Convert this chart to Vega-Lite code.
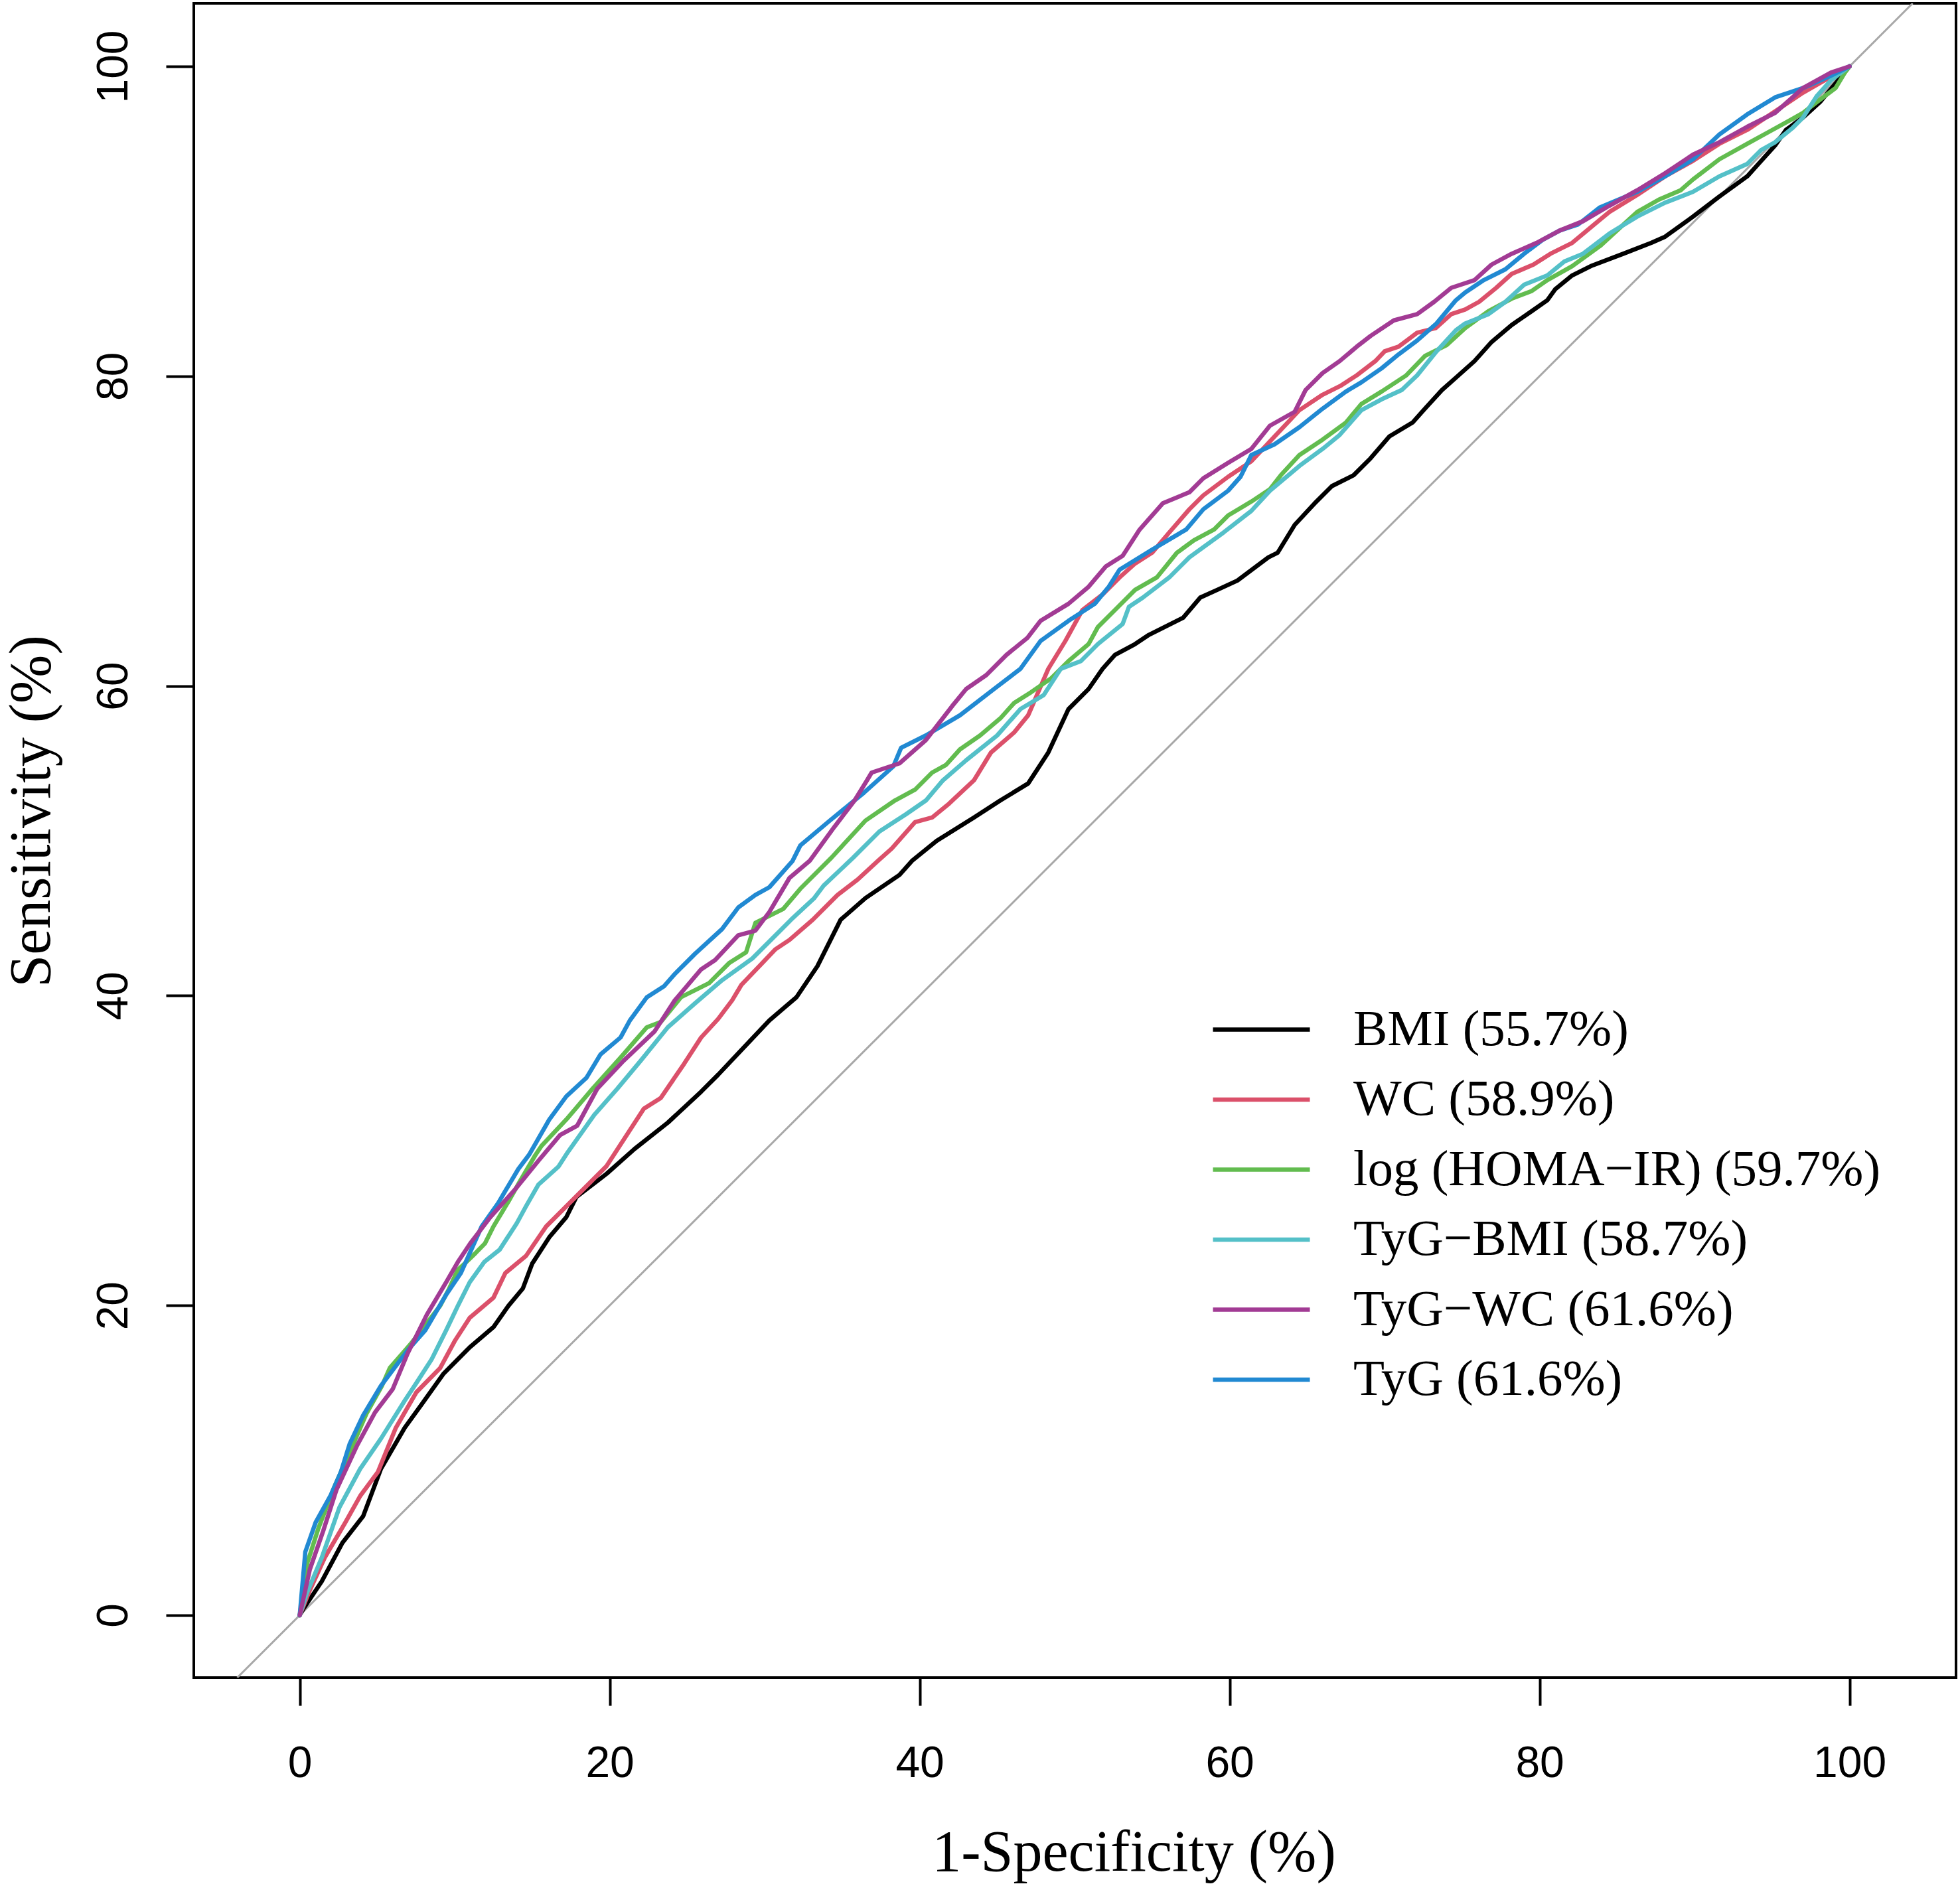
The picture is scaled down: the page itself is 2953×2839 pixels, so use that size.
{
  "$schema": "https://vega.github.io/schema/vega-lite/v6.json",
  "width": 2655,
  "height": 2523,
  "autosize": {"type": "none"},
  "padding": {"left": 292, "top": 5, "right": 6, "bottom": 311},
  "background": "white",
  "config": {
    "view": {"stroke": "black", "strokeWidth": 4},
    "axis": {
      "domain": false,
      "grid": false,
      "tickColor": "black",
      "tickWidth": 4,
      "tickSize": 42,
      "labelFont": "Liberation Sans",
      "labelFontSize": 66,
      "labelColor": "black",
      "labelFlush": false,
      "labelOverlap": false,
      "titleFont": "Liberation Serif",
      "titleFontSize": 88,
      "titleFontWeight": "normal",
      "titleColor": "black"
    }
  },
  "datasets": {
    "diag": [
      {"fpr": -4.03, "tpr": -4.03},
      {"fpr": 104.07, "tpr": 104.07}
    ],
    "roc": [
      {"model": "BMI (55.7%)", "fpr": 0, "tpr": 0},
      {"model": "BMI (55.7%)", "fpr": 0.27, "tpr": 0.46},
      {"model": "BMI (55.7%)", "fpr": 1.42, "tpr": 2.18},
      {"model": "BMI (55.7%)", "fpr": 2.75, "tpr": 4.67},
      {"model": "BMI (55.7%)", "fpr": 4.09, "tpr": 6.39},
      {"model": "BMI (55.7%)", "fpr": 5.24, "tpr": 9.45},
      {"model": "BMI (55.7%)", "fpr": 6.77, "tpr": 12.1},
      {"model": "BMI (55.7%)", "fpr": 7.9, "tpr": 13.66},
      {"model": "BMI (55.7%)", "fpr": 9.26, "tpr": 15.57},
      {"model": "BMI (55.7%)", "fpr": 10.97, "tpr": 17.3},
      {"model": "BMI (55.7%)", "fpr": 12.5, "tpr": 18.6},
      {"model": "BMI (55.7%)", "fpr": 13.46, "tpr": 19.97},
      {"model": "BMI (55.7%)", "fpr": 14.4, "tpr": 21.1},
      {"model": "BMI (55.7%)", "fpr": 15.0, "tpr": 22.7},
      {"model": "BMI (55.7%)", "fpr": 16.1, "tpr": 24.4},
      {"model": "BMI (55.7%)", "fpr": 17.2, "tpr": 25.7},
      {"model": "BMI (55.7%)", "fpr": 17.85, "tpr": 27.0},
      {"model": "BMI (55.7%)", "fpr": 19.8, "tpr": 28.5},
      {"model": "BMI (55.7%)", "fpr": 21.6, "tpr": 30.1},
      {"model": "BMI (55.7%)", "fpr": 23.75, "tpr": 31.8},
      {"model": "BMI (55.7%)", "fpr": 25.9, "tpr": 33.8},
      {"model": "BMI (55.7%)", "fpr": 27.0, "tpr": 34.9},
      {"model": "BMI (55.7%)", "fpr": 28.6, "tpr": 36.6},
      {"model": "BMI (55.7%)", "fpr": 30.3, "tpr": 38.4},
      {"model": "BMI (55.7%)", "fpr": 32.05, "tpr": 39.9},
      {"model": "BMI (55.7%)", "fpr": 33.4, "tpr": 41.9},
      {"model": "BMI (55.7%)", "fpr": 34.9, "tpr": 44.9},
      {"model": "BMI (55.7%)", "fpr": 36.5, "tpr": 46.3},
      {"model": "BMI (55.7%)", "fpr": 38.7, "tpr": 47.8},
      {"model": "BMI (55.7%)", "fpr": 39.5, "tpr": 48.7},
      {"model": "BMI (55.7%)", "fpr": 41.1, "tpr": 50.0},
      {"model": "BMI (55.7%)", "fpr": 43.5, "tpr": 51.5},
      {"model": "BMI (55.7%)", "fpr": 45.2, "tpr": 52.6},
      {"model": "BMI (55.7%)", "fpr": 47.0, "tpr": 53.7},
      {"model": "BMI (55.7%)", "fpr": 48.3, "tpr": 55.7},
      {"model": "BMI (55.7%)", "fpr": 49.6, "tpr": 58.5},
      {"model": "BMI (55.7%)", "fpr": 50.9, "tpr": 59.8},
      {"model": "BMI (55.7%)", "fpr": 51.8, "tpr": 61.1},
      {"model": "BMI (55.7%)", "fpr": 52.6, "tpr": 62.0},
      {"model": "BMI (55.7%)", "fpr": 53.9, "tpr": 62.7},
      {"model": "BMI (55.7%)", "fpr": 54.8, "tpr": 63.3},
      {"model": "BMI (55.7%)", "fpr": 57.0, "tpr": 64.4},
      {"model": "BMI (55.7%)", "fpr": 58.1, "tpr": 65.7},
      {"model": "BMI (55.7%)", "fpr": 59.2, "tpr": 66.2},
      {"model": "BMI (55.7%)", "fpr": 60.5, "tpr": 66.8},
      {"model": "BMI (55.7%)", "fpr": 62.5, "tpr": 68.3},
      {"model": "BMI (55.7%)", "fpr": 63.1, "tpr": 68.6},
      {"model": "BMI (55.7%)", "fpr": 64.2, "tpr": 70.4},
      {"model": "BMI (55.7%)", "fpr": 65.5, "tpr": 71.8},
      {"model": "BMI (55.7%)", "fpr": 66.6, "tpr": 72.9},
      {"model": "BMI (55.7%)", "fpr": 68.0, "tpr": 73.6},
      {"model": "BMI (55.7%)", "fpr": 69.1, "tpr": 74.7},
      {"model": "BMI (55.7%)", "fpr": 70.3, "tpr": 76.1},
      {"model": "BMI (55.7%)", "fpr": 71.8, "tpr": 77.0},
      {"model": "BMI (55.7%)", "fpr": 72.6, "tpr": 77.9},
      {"model": "BMI (55.7%)", "fpr": 73.7, "tpr": 79.1},
      {"model": "BMI (55.7%)", "fpr": 74.6, "tpr": 79.9},
      {"model": "BMI (55.7%)", "fpr": 75.8, "tpr": 80.97},
      {"model": "BMI (55.7%)", "fpr": 76.9, "tpr": 82.2},
      {"model": "BMI (55.7%)", "fpr": 78.2, "tpr": 83.3},
      {"model": "BMI (55.7%)", "fpr": 79.5, "tpr": 84.2},
      {"model": "BMI (55.7%)", "fpr": 80.5, "tpr": 84.9},
      {"model": "BMI (55.7%)", "fpr": 81.0, "tpr": 85.6},
      {"model": "BMI (55.7%)", "fpr": 82.1, "tpr": 86.5},
      {"model": "BMI (55.7%)", "fpr": 83.3, "tpr": 87.1},
      {"model": "BMI (55.7%)", "fpr": 85.4, "tpr": 87.9},
      {"model": "BMI (55.7%)", "fpr": 87.2, "tpr": 88.6},
      {"model": "BMI (55.7%)", "fpr": 88.1, "tpr": 89.0},
      {"model": "BMI (55.7%)", "fpr": 89.9, "tpr": 90.3},
      {"model": "BMI (55.7%)", "fpr": 91.6, "tpr": 91.6},
      {"model": "BMI (55.7%)", "fpr": 93.4, "tpr": 92.9},
      {"model": "BMI (55.7%)", "fpr": 94.3, "tpr": 93.9},
      {"model": "BMI (55.7%)", "fpr": 95.2, "tpr": 94.9},
      {"model": "BMI (55.7%)", "fpr": 95.9, "tpr": 95.9},
      {"model": "BMI (55.7%)", "fpr": 97.0, "tpr": 96.7},
      {"model": "BMI (55.7%)", "fpr": 98.1, "tpr": 97.7},
      {"model": "BMI (55.7%)", "fpr": 99.1, "tpr": 98.9},
      {"model": "BMI (55.7%)", "fpr": 100, "tpr": 100},

      {"model": "WC (58.9%)", "fpr": 0, "tpr": 0},
      {"model": "WC (58.9%)", "fpr": 0.65, "tpr": 1.61},
      {"model": "WC (58.9%)", "fpr": 1.61, "tpr": 3.71},
      {"model": "WC (58.9%)", "fpr": 2.95, "tpr": 6.0},
      {"model": "WC (58.9%)", "fpr": 3.9, "tpr": 7.7},
      {"model": "WC (58.9%)", "fpr": 5.05, "tpr": 9.26},
      {"model": "WC (58.9%)", "fpr": 6.2, "tpr": 12.1},
      {"model": "WC (58.9%)", "fpr": 7.53, "tpr": 14.4},
      {"model": "WC (58.9%)", "fpr": 9.06, "tpr": 15.96},
      {"model": "WC (58.9%)", "fpr": 10.0, "tpr": 17.7},
      {"model": "WC (58.9%)", "fpr": 10.97, "tpr": 19.2},
      {"model": "WC (58.9%)", "fpr": 12.5, "tpr": 20.5},
      {"model": "WC (58.9%)", "fpr": 13.27, "tpr": 22.1},
      {"model": "WC (58.9%)", "fpr": 14.6, "tpr": 23.2},
      {"model": "WC (58.9%)", "fpr": 15.9, "tpr": 25.1},
      {"model": "WC (58.9%)", "fpr": 17.1, "tpr": 26.3},
      {"model": "WC (58.9%)", "fpr": 18.3, "tpr": 27.5},
      {"model": "WC (58.9%)", "fpr": 19.8, "tpr": 29.0},
      {"model": "WC (58.9%)", "fpr": 20.9, "tpr": 30.7},
      {"model": "WC (58.9%)", "fpr": 22.2, "tpr": 32.7},
      {"model": "WC (58.9%)", "fpr": 23.3, "tpr": 33.4},
      {"model": "WC (58.9%)", "fpr": 24.8, "tpr": 35.6},
      {"model": "WC (58.9%)", "fpr": 25.9, "tpr": 37.3},
      {"model": "WC (58.9%)", "fpr": 27.0, "tpr": 38.5},
      {"model": "WC (58.9%)", "fpr": 27.9, "tpr": 39.7},
      {"model": "WC (58.9%)", "fpr": 28.5, "tpr": 40.7},
      {"model": "WC (58.9%)", "fpr": 29.65, "tpr": 41.9},
      {"model": "WC (58.9%)", "fpr": 30.7, "tpr": 43.0},
      {"model": "WC (58.9%)", "fpr": 31.6, "tpr": 43.6},
      {"model": "WC (58.9%)", "fpr": 33.1, "tpr": 44.9},
      {"model": "WC (58.9%)", "fpr": 34.7, "tpr": 46.5},
      {"model": "WC (58.9%)", "fpr": 36.0, "tpr": 47.5},
      {"model": "WC (58.9%)", "fpr": 37.3, "tpr": 48.7},
      {"model": "WC (58.9%)", "fpr": 38.2, "tpr": 49.5},
      {"model": "WC (58.9%)", "fpr": 39.7, "tpr": 51.2},
      {"model": "WC (58.9%)", "fpr": 40.8, "tpr": 51.5},
      {"model": "WC (58.9%)", "fpr": 41.9, "tpr": 52.4},
      {"model": "WC (58.9%)", "fpr": 43.5, "tpr": 53.9},
      {"model": "WC (58.9%)", "fpr": 44.6, "tpr": 55.7},
      {"model": "WC (58.9%)", "fpr": 46.1, "tpr": 57.0},
      {"model": "WC (58.9%)", "fpr": 47.0, "tpr": 58.1},
      {"model": "WC (58.9%)", "fpr": 48.3, "tpr": 61.1},
      {"model": "WC (58.9%)", "fpr": 49.4, "tpr": 62.9},
      {"model": "WC (58.9%)", "fpr": 50.5, "tpr": 64.9},
      {"model": "WC (58.9%)", "fpr": 51.8, "tpr": 65.9},
      {"model": "WC (58.9%)", "fpr": 52.9, "tpr": 67.0},
      {"model": "WC (58.9%)", "fpr": 53.9, "tpr": 67.9},
      {"model": "WC (58.9%)", "fpr": 55.0, "tpr": 68.6},
      {"model": "WC (58.9%)", "fpr": 56.1, "tpr": 69.9},
      {"model": "WC (58.9%)", "fpr": 57.4, "tpr": 71.4},
      {"model": "WC (58.9%)", "fpr": 58.3, "tpr": 72.3},
      {"model": "WC (58.9%)", "fpr": 59.9, "tpr": 73.5},
      {"model": "WC (58.9%)", "fpr": 61.4, "tpr": 74.5},
      {"model": "WC (58.9%)", "fpr": 62.9, "tpr": 76.1},
      {"model": "WC (58.9%)", "fpr": 64.5, "tpr": 77.8},
      {"model": "WC (58.9%)", "fpr": 66.0, "tpr": 78.8},
      {"model": "WC (58.9%)", "fpr": 67.2, "tpr": 79.4},
      {"model": "WC (58.9%)", "fpr": 68.2, "tpr": 80.05},
      {"model": "WC (58.9%)", "fpr": 69.4, "tpr": 80.97},
      {"model": "WC (58.9%)", "fpr": 70.0, "tpr": 81.6},
      {"model": "WC (58.9%)", "fpr": 70.9, "tpr": 81.9},
      {"model": "WC (58.9%)", "fpr": 72.1, "tpr": 82.8},
      {"model": "WC (58.9%)", "fpr": 73.3, "tpr": 83.1},
      {"model": "WC (58.9%)", "fpr": 74.3, "tpr": 84.0},
      {"model": "WC (58.9%)", "fpr": 75.2, "tpr": 84.3},
      {"model": "WC (58.9%)", "fpr": 76.1, "tpr": 84.8},
      {"model": "WC (58.9%)", "fpr": 77.2, "tpr": 85.7},
      {"model": "WC (58.9%)", "fpr": 78.2, "tpr": 86.6},
      {"model": "WC (58.9%)", "fpr": 79.6, "tpr": 87.2},
      {"model": "WC (58.9%)", "fpr": 80.7, "tpr": 87.9},
      {"model": "WC (58.9%)", "fpr": 82.1, "tpr": 88.6},
      {"model": "WC (58.9%)", "fpr": 83.9, "tpr": 90.1},
      {"model": "WC (58.9%)", "fpr": 84.5, "tpr": 90.6},
      {"model": "WC (58.9%)", "fpr": 86.3, "tpr": 91.7},
      {"model": "WC (58.9%)", "fpr": 88.1, "tpr": 92.9},
      {"model": "WC (58.9%)", "fpr": 89.9, "tpr": 93.9},
      {"model": "WC (58.9%)", "fpr": 91.6, "tpr": 95.0},
      {"model": "WC (58.9%)", "fpr": 93.4, "tpr": 95.9},
      {"model": "WC (58.9%)", "fpr": 95.2, "tpr": 97.1},
      {"model": "WC (58.9%)", "fpr": 97.0, "tpr": 98.3},
      {"model": "WC (58.9%)", "fpr": 98.4, "tpr": 99.1},
      {"model": "WC (58.9%)", "fpr": 100, "tpr": 100},

      {"model": "log (HOMA−IR) (59.7%)", "fpr": 0, "tpr": 0},
      {"model": "log (HOMA−IR) (59.7%)", "fpr": 0.5, "tpr": 3.4},
      {"model": "log (HOMA−IR) (59.7%)", "fpr": 1.2, "tpr": 5.6},
      {"model": "log (HOMA−IR) (59.7%)", "fpr": 2.2, "tpr": 8.2},
      {"model": "log (HOMA−IR) (59.7%)", "fpr": 3.3, "tpr": 10.7},
      {"model": "log (HOMA−IR) (59.7%)", "fpr": 4.3, "tpr": 13.0},
      {"model": "log (HOMA−IR) (59.7%)", "fpr": 5.3, "tpr": 14.8},
      {"model": "log (HOMA−IR) (59.7%)", "fpr": 5.81, "tpr": 15.96},
      {"model": "log (HOMA−IR) (59.7%)", "fpr": 7.15, "tpr": 17.5},
      {"model": "log (HOMA−IR) (59.7%)", "fpr": 8.0, "tpr": 18.6},
      {"model": "log (HOMA−IR) (59.7%)", "fpr": 9.06, "tpr": 19.97},
      {"model": "log (HOMA−IR) (59.7%)", "fpr": 9.6, "tpr": 21.0},
      {"model": "log (HOMA−IR) (59.7%)", "fpr": 10.2, "tpr": 22.3},
      {"model": "log (HOMA−IR) (59.7%)", "fpr": 10.64, "tpr": 22.7},
      {"model": "log (HOMA−IR) (59.7%)", "fpr": 11.36, "tpr": 23.4},
      {"model": "log (HOMA−IR) (59.7%)", "fpr": 11.95, "tpr": 24.0},
      {"model": "log (HOMA−IR) (59.7%)", "fpr": 12.5, "tpr": 25.1},
      {"model": "log (HOMA−IR) (59.7%)", "fpr": 13.46, "tpr": 26.7},
      {"model": "log (HOMA−IR) (59.7%)", "fpr": 14.2, "tpr": 28.0},
      {"model": "log (HOMA−IR) (59.7%)", "fpr": 15.2, "tpr": 29.7},
      {"model": "log (HOMA−IR) (59.7%)", "fpr": 15.6, "tpr": 30.3},
      {"model": "log (HOMA−IR) (59.7%)", "fpr": 17.2, "tpr": 32.0},
      {"model": "log (HOMA−IR) (59.7%)", "fpr": 18.9, "tpr": 34.0},
      {"model": "log (HOMA−IR) (59.7%)", "fpr": 20.7, "tpr": 36.0},
      {"model": "log (HOMA−IR) (59.7%)", "fpr": 22.4, "tpr": 37.96},
      {"model": "log (HOMA−IR) (59.7%)", "fpr": 23.3, "tpr": 38.3},
      {"model": "log (HOMA−IR) (59.7%)", "fpr": 24.6, "tpr": 39.9},
      {"model": "log (HOMA−IR) (59.7%)", "fpr": 26.4, "tpr": 40.8},
      {"model": "log (HOMA−IR) (59.7%)", "fpr": 27.7, "tpr": 42.1},
      {"model": "log (HOMA−IR) (59.7%)", "fpr": 28.8, "tpr": 42.8},
      {"model": "log (HOMA−IR) (59.7%)", "fpr": 29.4, "tpr": 44.7},
      {"model": "log (HOMA−IR) (59.7%)", "fpr": 31.2, "tpr": 45.6},
      {"model": "log (HOMA−IR) (59.7%)", "fpr": 32.3, "tpr": 46.9},
      {"model": "log (HOMA−IR) (59.7%)", "fpr": 34.3, "tpr": 48.9},
      {"model": "log (HOMA−IR) (59.7%)", "fpr": 36.5, "tpr": 51.3},
      {"model": "log (HOMA−IR) (59.7%)", "fpr": 38.4, "tpr": 52.6},
      {"model": "log (HOMA−IR) (59.7%)", "fpr": 39.7, "tpr": 53.3},
      {"model": "log (HOMA−IR) (59.7%)", "fpr": 40.8, "tpr": 54.4},
      {"model": "log (HOMA−IR) (59.7%)", "fpr": 41.7, "tpr": 54.9},
      {"model": "log (HOMA−IR) (59.7%)", "fpr": 42.6, "tpr": 55.9},
      {"model": "log (HOMA−IR) (59.7%)", "fpr": 43.9, "tpr": 56.8},
      {"model": "log (HOMA−IR) (59.7%)", "fpr": 45.2, "tpr": 57.9},
      {"model": "log (HOMA−IR) (59.7%)", "fpr": 46.1, "tpr": 58.9},
      {"model": "log (HOMA−IR) (59.7%)", "fpr": 47.2, "tpr": 59.6},
      {"model": "log (HOMA−IR) (59.7%)", "fpr": 48.5, "tpr": 60.5},
      {"model": "log (HOMA−IR) (59.7%)", "fpr": 49.6, "tpr": 61.6},
      {"model": "log (HOMA−IR) (59.7%)", "fpr": 50.9, "tpr": 62.7},
      {"model": "log (HOMA−IR) (59.7%)", "fpr": 51.5, "tpr": 63.8},
      {"model": "log (HOMA−IR) (59.7%)", "fpr": 52.6, "tpr": 64.9},
      {"model": "log (HOMA−IR) (59.7%)", "fpr": 53.9, "tpr": 66.2},
      {"model": "log (HOMA−IR) (59.7%)", "fpr": 55.3, "tpr": 67.0},
      {"model": "log (HOMA−IR) (59.7%)", "fpr": 56.6, "tpr": 68.6},
      {"model": "log (HOMA−IR) (59.7%)", "fpr": 57.7, "tpr": 69.4},
      {"model": "log (HOMA−IR) (59.7%)", "fpr": 59.0, "tpr": 70.1},
      {"model": "log (HOMA−IR) (59.7%)", "fpr": 59.9, "tpr": 71.0},
      {"model": "log (HOMA−IR) (59.7%)", "fpr": 61.4, "tpr": 71.9},
      {"model": "log (HOMA−IR) (59.7%)", "fpr": 62.6, "tpr": 72.7},
      {"model": "log (HOMA−IR) (59.7%)", "fpr": 63.3, "tpr": 73.6},
      {"model": "log (HOMA−IR) (59.7%)", "fpr": 64.5, "tpr": 74.9},
      {"model": "log (HOMA−IR) (59.7%)", "fpr": 66.0, "tpr": 75.9},
      {"model": "log (HOMA−IR) (59.7%)", "fpr": 67.5, "tpr": 77.0},
      {"model": "log (HOMA−IR) (59.7%)", "fpr": 68.5, "tpr": 78.2},
      {"model": "log (HOMA−IR) (59.7%)", "fpr": 69.8, "tpr": 79.0},
      {"model": "log (HOMA−IR) (59.7%)", "fpr": 71.4, "tpr": 80.05},
      {"model": "log (HOMA−IR) (59.7%)", "fpr": 72.6, "tpr": 81.3},
      {"model": "log (HOMA−IR) (59.7%)", "fpr": 74.0, "tpr": 82.0},
      {"model": "log (HOMA−IR) (59.7%)", "fpr": 75.2, "tpr": 83.1},
      {"model": "log (HOMA−IR) (59.7%)", "fpr": 76.7, "tpr": 84.2},
      {"model": "log (HOMA−IR) (59.7%)", "fpr": 78.2, "tpr": 85.0},
      {"model": "log (HOMA−IR) (59.7%)", "fpr": 79.5, "tpr": 85.5},
      {"model": "log (HOMA−IR) (59.7%)", "fpr": 80.5, "tpr": 86.2},
      {"model": "log (HOMA−IR) (59.7%)", "fpr": 82.1, "tpr": 87.1},
      {"model": "log (HOMA−IR) (59.7%)", "fpr": 83.9, "tpr": 88.4},
      {"model": "log (HOMA−IR) (59.7%)", "fpr": 86.3, "tpr": 90.6},
      {"model": "log (HOMA−IR) (59.7%)", "fpr": 87.7, "tpr": 91.4},
      {"model": "log (HOMA−IR) (59.7%)", "fpr": 89.1, "tpr": 92.0},
      {"model": "log (HOMA−IR) (59.7%)", "fpr": 89.9, "tpr": 92.7},
      {"model": "log (HOMA−IR) (59.7%)", "fpr": 91.6, "tpr": 94.0},
      {"model": "log (HOMA−IR) (59.7%)", "fpr": 93.4, "tpr": 95.0},
      {"model": "log (HOMA−IR) (59.7%)", "fpr": 94.85, "tpr": 95.8},
      {"model": "log (HOMA−IR) (59.7%)", "fpr": 96.3, "tpr": 96.6},
      {"model": "log (HOMA−IR) (59.7%)", "fpr": 97.0, "tpr": 97.0},
      {"model": "log (HOMA−IR) (59.7%)", "fpr": 97.9, "tpr": 97.7},
      {"model": "log (HOMA−IR) (59.7%)", "fpr": 99.1, "tpr": 98.6},
      {"model": "log (HOMA−IR) (59.7%)", "fpr": 99.7, "tpr": 99.6},
      {"model": "log (HOMA−IR) (59.7%)", "fpr": 100, "tpr": 100},

      {"model": "TyG−BMI (58.7%)", "fpr": 0, "tpr": 0},
      {"model": "TyG−BMI (58.7%)", "fpr": 0.46, "tpr": 1.42},
      {"model": "TyG−BMI (58.7%)", "fpr": 1.42, "tpr": 3.71},
      {"model": "TyG−BMI (58.7%)", "fpr": 2.56, "tpr": 6.96},
      {"model": "TyG−BMI (58.7%)", "fpr": 3.9, "tpr": 9.45},
      {"model": "TyG−BMI (58.7%)", "fpr": 5.24, "tpr": 11.4},
      {"model": "TyG−BMI (58.7%)", "fpr": 6.77, "tpr": 13.85},
      {"model": "TyG−BMI (58.7%)", "fpr": 7.53, "tpr": 15.0},
      {"model": "TyG−BMI (58.7%)", "fpr": 8.5, "tpr": 16.5},
      {"model": "TyG−BMI (58.7%)", "fpr": 9.45, "tpr": 18.4},
      {"model": "TyG−BMI (58.7%)", "fpr": 10.2, "tpr": 19.97},
      {"model": "TyG−BMI (58.7%)", "fpr": 10.97, "tpr": 21.5},
      {"model": "TyG−BMI (58.7%)", "fpr": 11.9, "tpr": 22.8},
      {"model": "TyG−BMI (58.7%)", "fpr": 12.9, "tpr": 23.6},
      {"model": "TyG−BMI (58.7%)", "fpr": 14.0, "tpr": 25.3},
      {"model": "TyG−BMI (58.7%)", "fpr": 14.6, "tpr": 26.4},
      {"model": "TyG−BMI (58.7%)", "fpr": 15.4, "tpr": 27.8},
      {"model": "TyG−BMI (58.7%)", "fpr": 16.7, "tpr": 28.97},
      {"model": "TyG−BMI (58.7%)", "fpr": 17.3, "tpr": 29.9},
      {"model": "TyG−BMI (58.7%)", "fpr": 19.0, "tpr": 32.3},
      {"model": "TyG−BMI (58.7%)", "fpr": 20.5, "tpr": 34.0},
      {"model": "TyG−BMI (58.7%)", "fpr": 22.0, "tpr": 35.8},
      {"model": "TyG−BMI (58.7%)", "fpr": 23.75, "tpr": 37.96},
      {"model": "TyG−BMI (58.7%)", "fpr": 25.5, "tpr": 39.5},
      {"model": "TyG−BMI (58.7%)", "fpr": 27.25, "tpr": 41.0},
      {"model": "TyG−BMI (58.7%)", "fpr": 29.2, "tpr": 42.4},
      {"model": "TyG−BMI (58.7%)", "fpr": 30.7, "tpr": 43.9},
      {"model": "TyG−BMI (58.7%)", "fpr": 31.7, "tpr": 44.9},
      {"model": "TyG−BMI (58.7%)", "fpr": 33.2, "tpr": 46.3},
      {"model": "TyG−BMI (58.7%)", "fpr": 33.8, "tpr": 47.1},
      {"model": "TyG−BMI (58.7%)", "fpr": 35.7, "tpr": 48.9},
      {"model": "TyG−BMI (58.7%)", "fpr": 37.4, "tpr": 50.6},
      {"model": "TyG−BMI (58.7%)", "fpr": 39.1, "tpr": 51.7},
      {"model": "TyG−BMI (58.7%)", "fpr": 40.4, "tpr": 52.6},
      {"model": "TyG−BMI (58.7%)", "fpr": 41.5, "tpr": 53.9},
      {"model": "TyG−BMI (58.7%)", "fpr": 43.0, "tpr": 55.2},
      {"model": "TyG−BMI (58.7%)", "fpr": 45.0, "tpr": 56.8},
      {"model": "TyG−BMI (58.7%)", "fpr": 46.5, "tpr": 58.5},
      {"model": "TyG−BMI (58.7%)", "fpr": 48.0, "tpr": 59.4},
      {"model": "TyG−BMI (58.7%)", "fpr": 49.1, "tpr": 61.1},
      {"model": "TyG−BMI (58.7%)", "fpr": 50.4, "tpr": 61.6},
      {"model": "TyG−BMI (58.7%)", "fpr": 51.5, "tpr": 62.7},
      {"model": "TyG−BMI (58.7%)", "fpr": 53.1, "tpr": 64.0},
      {"model": "TyG−BMI (58.7%)", "fpr": 53.5, "tpr": 65.1},
      {"model": "TyG−BMI (58.7%)", "fpr": 54.4, "tpr": 65.7},
      {"model": "TyG−BMI (58.7%)", "fpr": 56.1, "tpr": 67.0},
      {"model": "TyG−BMI (58.7%)", "fpr": 57.4, "tpr": 68.3},
      {"model": "TyG−BMI (58.7%)", "fpr": 59.6, "tpr": 69.9},
      {"model": "TyG−BMI (58.7%)", "fpr": 61.4, "tpr": 71.3},
      {"model": "TyG−BMI (58.7%)", "fpr": 62.6, "tpr": 72.6},
      {"model": "TyG−BMI (58.7%)", "fpr": 64.5, "tpr": 74.2},
      {"model": "TyG−BMI (58.7%)", "fpr": 66.0, "tpr": 75.3},
      {"model": "TyG−BMI (58.7%)", "fpr": 67.1, "tpr": 76.2},
      {"model": "TyG−BMI (58.7%)", "fpr": 68.5, "tpr": 77.8},
      {"model": "TyG−BMI (58.7%)", "fpr": 69.8, "tpr": 78.5},
      {"model": "TyG−BMI (58.7%)", "fpr": 71.1, "tpr": 79.1},
      {"model": "TyG−BMI (58.7%)", "fpr": 72.1, "tpr": 80.05},
      {"model": "TyG−BMI (58.7%)", "fpr": 73.35, "tpr": 81.6},
      {"model": "TyG−BMI (58.7%)", "fpr": 74.6, "tpr": 82.96},
      {"model": "TyG−BMI (58.7%)", "fpr": 75.2, "tpr": 83.4},
      {"model": "TyG−BMI (58.7%)", "fpr": 76.7, "tpr": 84.0},
      {"model": "TyG−BMI (58.7%)", "fpr": 77.8, "tpr": 84.8},
      {"model": "TyG−BMI (58.7%)", "fpr": 79.0, "tpr": 85.9},
      {"model": "TyG−BMI (58.7%)", "fpr": 80.5, "tpr": 86.5},
      {"model": "TyG−BMI (58.7%)", "fpr": 81.6, "tpr": 87.4},
      {"model": "TyG−BMI (58.7%)", "fpr": 82.8, "tpr": 87.9},
      {"model": "TyG−BMI (58.7%)", "fpr": 84.5, "tpr": 89.2},
      {"model": "TyG−BMI (58.7%)", "fpr": 86.3, "tpr": 90.3},
      {"model": "TyG−BMI (58.7%)", "fpr": 88.1, "tpr": 91.2},
      {"model": "TyG−BMI (58.7%)", "fpr": 89.9, "tpr": 91.9},
      {"model": "TyG−BMI (58.7%)", "fpr": 91.6, "tpr": 92.9},
      {"model": "TyG−BMI (58.7%)", "fpr": 93.4, "tpr": 93.7},
      {"model": "TyG−BMI (58.7%)", "fpr": 94.3, "tpr": 94.6},
      {"model": "TyG−BMI (58.7%)", "fpr": 95.2, "tpr": 95.1},
      {"model": "TyG−BMI (58.7%)", "fpr": 96.3, "tpr": 96.0},
      {"model": "TyG−BMI (58.7%)", "fpr": 97.0, "tpr": 96.7},
      {"model": "TyG−BMI (58.7%)", "fpr": 97.9, "tpr": 98.1},
      {"model": "TyG−BMI (58.7%)", "fpr": 98.8, "tpr": 99.1},
      {"model": "TyG−BMI (58.7%)", "fpr": 100, "tpr": 100},

      {"model": "TyG (61.6%)", "fpr": 0, "tpr": 0},
      {"model": "TyG (61.6%)", "fpr": 0.36, "tpr": 4.09},
      {"model": "TyG (61.6%)", "fpr": 1.03, "tpr": 6.0},
      {"model": "TyG (61.6%)", "fpr": 1.99, "tpr": 7.73},
      {"model": "TyG (61.6%)", "fpr": 2.66, "tpr": 9.26},
      {"model": "TyG (61.6%)", "fpr": 3.23, "tpr": 11.08},
      {"model": "TyG (61.6%)", "fpr": 4.09, "tpr": 12.9},
      {"model": "TyG (61.6%)", "fpr": 5.24, "tpr": 14.81},
      {"model": "TyG (61.6%)", "fpr": 6.96, "tpr": 17.1},
      {"model": "TyG (61.6%)", "fpr": 8.1, "tpr": 18.4},
      {"model": "TyG (61.6%)", "fpr": 9.45, "tpr": 20.7},
      {"model": "TyG (61.6%)", "fpr": 10.4, "tpr": 22.1},
      {"model": "TyG (61.6%)", "fpr": 11.74, "tpr": 25.1},
      {"model": "TyG (61.6%)", "fpr": 12.8, "tpr": 26.6},
      {"model": "TyG (61.6%)", "fpr": 13.27, "tpr": 27.4},
      {"model": "TyG (61.6%)", "fpr": 14.1, "tpr": 28.8},
      {"model": "TyG (61.6%)", "fpr": 14.8, "tpr": 29.73},
      {"model": "TyG (61.6%)", "fpr": 16.1, "tpr": 32.0},
      {"model": "TyG (61.6%)", "fpr": 17.2, "tpr": 33.5},
      {"model": "TyG (61.6%)", "fpr": 18.5, "tpr": 34.7},
      {"model": "TyG (61.6%)", "fpr": 19.4, "tpr": 36.2},
      {"model": "TyG (61.6%)", "fpr": 20.7, "tpr": 37.3},
      {"model": "TyG (61.6%)", "fpr": 21.3, "tpr": 38.4},
      {"model": "TyG (61.6%)", "fpr": 22.4, "tpr": 39.9},
      {"model": "TyG (61.6%)", "fpr": 23.5, "tpr": 40.6},
      {"model": "TyG (61.6%)", "fpr": 24.2, "tpr": 41.4},
      {"model": "TyG (61.6%)", "fpr": 25.5, "tpr": 42.7},
      {"model": "TyG (61.6%)", "fpr": 27.25, "tpr": 44.3},
      {"model": "TyG (61.6%)", "fpr": 28.3, "tpr": 45.7},
      {"model": "TyG (61.6%)", "fpr": 29.4, "tpr": 46.5},
      {"model": "TyG (61.6%)", "fpr": 30.3, "tpr": 47.0},
      {"model": "TyG (61.6%)", "fpr": 31.8, "tpr": 48.7},
      {"model": "TyG (61.6%)", "fpr": 32.3, "tpr": 49.7},
      {"model": "TyG (61.6%)", "fpr": 34.2, "tpr": 51.3},
      {"model": "TyG (61.6%)", "fpr": 36.4, "tpr": 53.1},
      {"model": "TyG (61.6%)", "fpr": 38.3, "tpr": 54.8},
      {"model": "TyG (61.6%)", "fpr": 38.8, "tpr": 56.0},
      {"model": "TyG (61.6%)", "fpr": 40.4, "tpr": 56.8},
      {"model": "TyG (61.6%)", "fpr": 42.6, "tpr": 58.1},
      {"model": "TyG (61.6%)", "fpr": 44.8, "tpr": 59.8},
      {"model": "TyG (61.6%)", "fpr": 46.5, "tpr": 61.1},
      {"model": "TyG (61.6%)", "fpr": 47.8, "tpr": 62.9},
      {"model": "TyG (61.6%)", "fpr": 49.6, "tpr": 64.2},
      {"model": "TyG (61.6%)", "fpr": 51.3, "tpr": 65.3},
      {"model": "TyG (61.6%)", "fpr": 52.2, "tpr": 66.4},
      {"model": "TyG (61.6%)", "fpr": 52.9, "tpr": 67.5},
      {"model": "TyG (61.6%)", "fpr": 55.0, "tpr": 68.8},
      {"model": "TyG (61.6%)", "fpr": 57.2, "tpr": 70.1},
      {"model": "TyG (61.6%)", "fpr": 58.3, "tpr": 71.4},
      {"model": "TyG (61.6%)", "fpr": 59.9, "tpr": 72.6},
      {"model": "TyG (61.6%)", "fpr": 60.7, "tpr": 73.5},
      {"model": "TyG (61.6%)", "fpr": 61.4, "tpr": 74.9},
      {"model": "TyG (61.6%)", "fpr": 62.9, "tpr": 75.6},
      {"model": "TyG (61.6%)", "fpr": 64.5, "tpr": 76.7},
      {"model": "TyG (61.6%)", "fpr": 66.0, "tpr": 77.9},
      {"model": "TyG (61.6%)", "fpr": 67.5, "tpr": 79.0},
      {"model": "TyG (61.6%)", "fpr": 68.5, "tpr": 79.6},
      {"model": "TyG (61.6%)", "fpr": 69.8, "tpr": 80.5},
      {"model": "TyG (61.6%)", "fpr": 70.9, "tpr": 81.4},
      {"model": "TyG (61.6%)", "fpr": 72.1, "tpr": 82.3},
      {"model": "TyG (61.6%)", "fpr": 73.35, "tpr": 83.4},
      {"model": "TyG (61.6%)", "fpr": 74.6, "tpr": 84.9},
      {"model": "TyG (61.6%)", "fpr": 75.2, "tpr": 85.4},
      {"model": "TyG (61.6%)", "fpr": 76.4, "tpr": 86.2},
      {"model": "TyG (61.6%)", "fpr": 77.8, "tpr": 86.9},
      {"model": "TyG (61.6%)", "fpr": 79.0, "tpr": 87.9},
      {"model": "TyG (61.6%)", "fpr": 80.2, "tpr": 88.8},
      {"model": "TyG (61.6%)", "fpr": 81.3, "tpr": 89.4},
      {"model": "TyG (61.6%)", "fpr": 82.5, "tpr": 89.8},
      {"model": "TyG (61.6%)", "fpr": 83.9, "tpr": 90.9},
      {"model": "TyG (61.6%)", "fpr": 86.3, "tpr": 91.9},
      {"model": "TyG (61.6%)", "fpr": 88.1, "tpr": 92.9},
      {"model": "TyG (61.6%)", "fpr": 89.9, "tpr": 94.0},
      {"model": "TyG (61.6%)", "fpr": 91.6, "tpr": 95.6},
      {"model": "TyG (61.6%)", "fpr": 93.4, "tpr": 96.9},
      {"model": "TyG (61.6%)", "fpr": 95.2, "tpr": 98.0},
      {"model": "TyG (61.6%)", "fpr": 97.0, "tpr": 98.6},
      {"model": "TyG (61.6%)", "fpr": 98.8, "tpr": 99.4},
      {"model": "TyG (61.6%)", "fpr": 100, "tpr": 100},

      {"model": "TyG−WC (61.6%)", "fpr": 0, "tpr": 0},
      {"model": "TyG−WC (61.6%)", "fpr": 0.65, "tpr": 2.95},
      {"model": "TyG−WC (61.6%)", "fpr": 1.51, "tpr": 5.43},
      {"model": "TyG−WC (61.6%)", "fpr": 2.37, "tpr": 8.1},
      {"model": "TyG−WC (61.6%)", "fpr": 3.71, "tpr": 10.98},
      {"model": "TyG−WC (61.6%)", "fpr": 4.86, "tpr": 13.1},
      {"model": "TyG−WC (61.6%)", "fpr": 6.0, "tpr": 14.6},
      {"model": "TyG−WC (61.6%)", "fpr": 6.96, "tpr": 16.9},
      {"model": "TyG−WC (61.6%)", "fpr": 8.2, "tpr": 19.4},
      {"model": "TyG−WC (61.6%)", "fpr": 9.45, "tpr": 21.5},
      {"model": "TyG−WC (61.6%)", "fpr": 10.2, "tpr": 22.8},
      {"model": "TyG−WC (61.6%)", "fpr": 11.0, "tpr": 24.0},
      {"model": "TyG−WC (61.6%)", "fpr": 12.3, "tpr": 25.7},
      {"model": "TyG−WC (61.6%)", "fpr": 13.9, "tpr": 27.5},
      {"model": "TyG−WC (61.6%)", "fpr": 15.45, "tpr": 29.4},
      {"model": "TyG−WC (61.6%)", "fpr": 16.8, "tpr": 31.0},
      {"model": "TyG−WC (61.6%)", "fpr": 17.9, "tpr": 31.6},
      {"model": "TyG−WC (61.6%)", "fpr": 19.2, "tpr": 34.0},
      {"model": "TyG−WC (61.6%)", "fpr": 20.9, "tpr": 35.8},
      {"model": "TyG−WC (61.6%)", "fpr": 22.9, "tpr": 37.7},
      {"model": "TyG−WC (61.6%)", "fpr": 24.2, "tpr": 39.7},
      {"model": "TyG−WC (61.6%)", "fpr": 25.9, "tpr": 41.7},
      {"model": "TyG−WC (61.6%)", "fpr": 26.8, "tpr": 42.3},
      {"model": "TyG−WC (61.6%)", "fpr": 28.3, "tpr": 43.9},
      {"model": "TyG−WC (61.6%)", "fpr": 29.4, "tpr": 44.2},
      {"model": "TyG−WC (61.6%)", "fpr": 30.3, "tpr": 45.4},
      {"model": "TyG−WC (61.6%)", "fpr": 31.6, "tpr": 47.6},
      {"model": "TyG−WC (61.6%)", "fpr": 32.9, "tpr": 48.7},
      {"model": "TyG−WC (61.6%)", "fpr": 34.5, "tpr": 50.9},
      {"model": "TyG−WC (61.6%)", "fpr": 35.8, "tpr": 52.6},
      {"model": "TyG−WC (61.6%)", "fpr": 36.6, "tpr": 53.9},
      {"model": "TyG−WC (61.6%)", "fpr": 36.9, "tpr": 54.4},
      {"model": "TyG−WC (61.6%)", "fpr": 38.7, "tpr": 55.0},
      {"model": "TyG−WC (61.6%)", "fpr": 40.4, "tpr": 56.5},
      {"model": "TyG−WC (61.6%)", "fpr": 42.1, "tpr": 58.7},
      {"model": "TyG−WC (61.6%)", "fpr": 43.0, "tpr": 59.8},
      {"model": "TyG−WC (61.6%)", "fpr": 44.3, "tpr": 60.7},
      {"model": "TyG−WC (61.6%)", "fpr": 45.6, "tpr": 62.0},
      {"model": "TyG−WC (61.6%)", "fpr": 46.95, "tpr": 63.1},
      {"model": "TyG−WC (61.6%)", "fpr": 47.8, "tpr": 64.2},
      {"model": "TyG−WC (61.6%)", "fpr": 49.6, "tpr": 65.3},
      {"model": "TyG−WC (61.6%)", "fpr": 50.9, "tpr": 66.4},
      {"model": "TyG−WC (61.6%)", "fpr": 52.0, "tpr": 67.7},
      {"model": "TyG−WC (61.6%)", "fpr": 53.1, "tpr": 68.4},
      {"model": "TyG−WC (61.6%)", "fpr": 54.2, "tpr": 70.1},
      {"model": "TyG−WC (61.6%)", "fpr": 55.7, "tpr": 71.8},
      {"model": "TyG−WC (61.6%)", "fpr": 57.4, "tpr": 72.5},
      {"model": "TyG−WC (61.6%)", "fpr": 58.3, "tpr": 73.4},
      {"model": "TyG−WC (61.6%)", "fpr": 59.9, "tpr": 74.4},
      {"model": "TyG−WC (61.6%)", "fpr": 61.4, "tpr": 75.3},
      {"model": "TyG−WC (61.6%)", "fpr": 62.6, "tpr": 76.8},
      {"model": "TyG−WC (61.6%)", "fpr": 64.2, "tpr": 77.7},
      {"model": "TyG−WC (61.6%)", "fpr": 64.9, "tpr": 79.1},
      {"model": "TyG−WC (61.6%)", "fpr": 66.0, "tpr": 80.2},
      {"model": "TyG−WC (61.6%)", "fpr": 67.1, "tpr": 80.97},
      {"model": "TyG−WC (61.6%)", "fpr": 68.2, "tpr": 81.9},
      {"model": "TyG−WC (61.6%)", "fpr": 69.1, "tpr": 82.6},
      {"model": "TyG−WC (61.6%)", "fpr": 70.6, "tpr": 83.6},
      {"model": "TyG−WC (61.6%)", "fpr": 72.1, "tpr": 84.0},
      {"model": "TyG−WC (61.6%)", "fpr": 73.2, "tpr": 84.8},
      {"model": "TyG−WC (61.6%)", "fpr": 74.3, "tpr": 85.7},
      {"model": "TyG−WC (61.6%)", "fpr": 75.8, "tpr": 86.2},
      {"model": "TyG−WC (61.6%)", "fpr": 76.9, "tpr": 87.2},
      {"model": "TyG−WC (61.6%)", "fpr": 78.2, "tpr": 87.9},
      {"model": "TyG−WC (61.6%)", "fpr": 79.8, "tpr": 88.6},
      {"model": "TyG−WC (61.6%)", "fpr": 81.3, "tpr": 89.4},
      {"model": "TyG−WC (61.6%)", "fpr": 82.8, "tpr": 90.0},
      {"model": "TyG−WC (61.6%)", "fpr": 84.5, "tpr": 91.0},
      {"model": "TyG−WC (61.6%)", "fpr": 86.3, "tpr": 92.0},
      {"model": "TyG−WC (61.6%)", "fpr": 88.1, "tpr": 93.1},
      {"model": "TyG−WC (61.6%)", "fpr": 89.9, "tpr": 94.3},
      {"model": "TyG−WC (61.6%)", "fpr": 91.6, "tpr": 95.1},
      {"model": "TyG−WC (61.6%)", "fpr": 93.4, "tpr": 96.1},
      {"model": "TyG−WC (61.6%)", "fpr": 95.2, "tpr": 97.0},
      {"model": "TyG−WC (61.6%)", "fpr": 97.0, "tpr": 98.6},
      {"model": "TyG−WC (61.6%)", "fpr": 98.8, "tpr": 99.6},
      {"model": "TyG−WC (61.6%)", "fpr": 100, "tpr": 100}
    ]
  },
  "encoding": {
    "x": {
      "field": "fpr",
      "type": "quantitative",
      "scale": {"domain": [-6.835, 106.87], "nice": false, "zero": false},
      "axis": {
        "values": [0, 20, 40, 60, 80, 100],
        "title": "1-Specificity (%)",
        "labelBaseline": "alphabetic",
        "labelPadding": 107,
        "titleX": 1416,
        "titleY": 290,
        "titleAlign": "center",
        "titleBaseline": "alphabetic"
      }
    },
    "y": {
      "field": "tpr",
      "type": "quantitative",
      "scale": {"domain": [-4.03, 104.07], "nice": false, "zero": false},
      "axis": {
        "values": [0, 20, 40, 60, 80, 100],
        "title": "Sensitivity (%)",
        "labelAngle": -90,
        "labelAlign": "center",
        "labelBaseline": "alphabetic",
        "labelPadding": 59,
        "titleAngle": -90,
        "titleX": -218,
        "titleY": 1217,
        "titleAlign": "center",
        "titleBaseline": "alphabetic"
      }
    }
  },
  "layer": [
    {
      "data": {"name": "diag"},
      "mark": {"type": "line", "color": "#A8A8A8", "strokeWidth": 3, "clip": true}
    },
    {
      "data": {"name": "roc"},
      "mark": {"type": "line", "strokeWidth": 6.5, "strokeJoin": "round", "strokeCap": "round"},
      "encoding": {
        "color": {
          "field": "model",
          "type": "nominal",
          "scale": {
            "domain": ["BMI (55.7%)", "WC (58.9%)", "log (HOMA−IR) (59.7%)", "TyG−BMI (58.7%)", "TyG−WC (61.6%)", "TyG (61.6%)"],
            "range": ["#000000", "#DB506A", "#62BC4F", "#54C0C8", "#A23B94", "#2189D2"]
          },
          "legend": {
            "orient": "none",
            "legendX": 1570,
            "legendY": 1508,
            "title": null,
            "padding": 0,
            "symbolType": "M-2.5,0H2.5",
            "symbolSize": 3411,
            "symbolStrokeWidth": 6.5,
            "labelFont": "Liberation Serif",
            "labelFontSize": 77,
            "labelColor": "black",
            "labelLimit": 2000,
            "labelOffset": 100,
            "rowPadding": 27.5
          }
        }
      }
    }
  ]
}
